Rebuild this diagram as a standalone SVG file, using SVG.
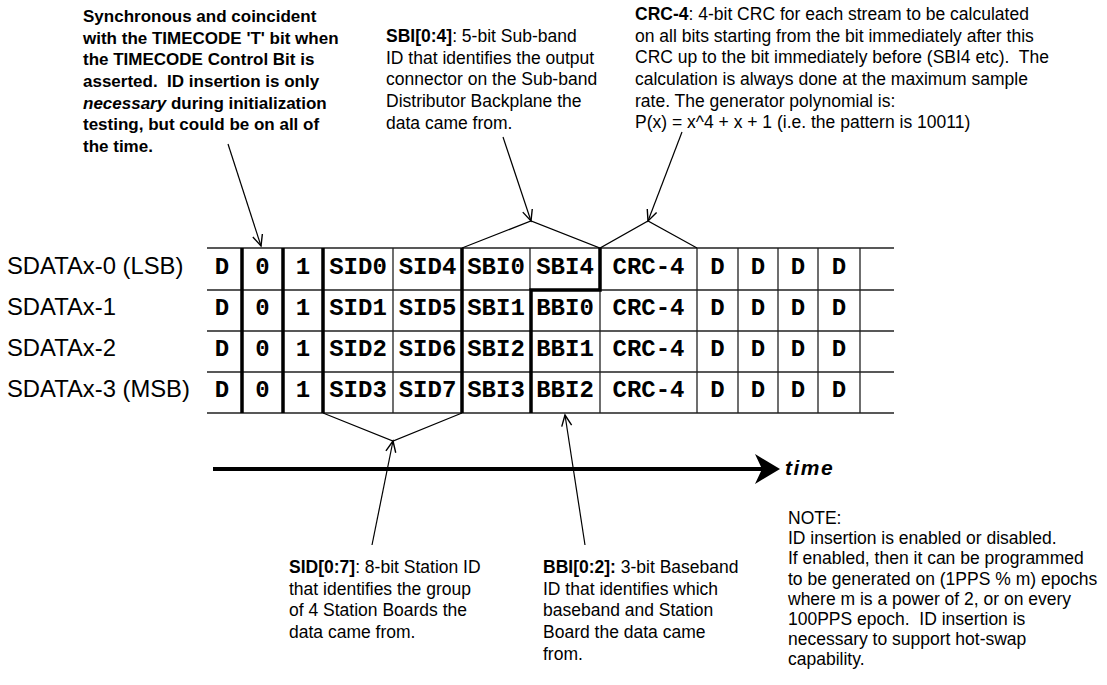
<svg xmlns="http://www.w3.org/2000/svg" width="1107" height="685" viewBox="0 0 1107 685">
<style>
.t{font-family:"Liberation Sans",Arial,sans-serif;font-size:17.5px;fill:#000;white-space:pre}
.tb{font-family:"Liberation Sans",Arial,sans-serif;font-size:17px;font-weight:bold;fill:#000;white-space:pre}
.b{font-weight:bold}
.lbl{font-family:"Liberation Sans",Arial,sans-serif;font-size:23.8px;fill:#000}
.c{font-family:"Liberation Mono","Courier New",monospace;font-size:24px;font-weight:bold;fill:#000;text-anchor:middle}
.thin{stroke:#222;stroke-width:1.3;fill:none}
.thick{stroke:#000;stroke-width:3.5;fill:none}
.conn{stroke:#000;stroke-width:1.2;fill:none}
</style>
<defs>
<marker id="ah" markerUnits="userSpaceOnUse" markerWidth="14" markerHeight="14" refX="12" refY="6" orient="auto">
<path d="M1,1 L12,6 L1,11" fill="none" stroke="#000" stroke-width="1.4"/>
</marker>
</defs>
<rect width="1107" height="685" fill="#fff"/>

<g id="note-timecode">
<text class="tb" x="83" y="22">Synchronous and coincident</text>
<text class="tb" x="83" y="43.7">with the TIMECODE 'T' bit when</text>
<text class="tb" x="83" y="65.3">the TIMECODE Control Bit is</text>
<text class="tb" x="83" y="87">asserted.  ID insertion is only</text>
<text class="tb" x="83" y="108.7"><tspan font-style="italic">necessary</tspan> during initialization</text>
<text class="tb" x="83" y="130.3">testing, but could be on all of</text>
<text class="tb" x="83" y="152">the time.</text>
</g>

<g id="note-sbi">
<text class="t" x="386" y="42"><tspan class="b">SBI[0:4]</tspan>: 5-bit Sub-band</text>
<text class="t" x="386" y="63.7">ID that identifies the output</text>
<text class="t" x="386" y="85.3">connector on the Sub-band</text>
<text class="t" x="386" y="107">Distributor Backplane the</text>
<text class="t" x="386" y="128.7">data came from.</text>
</g>

<g id="note-crc">
<text class="t" x="635" y="20"><tspan class="b">CRC-4</tspan>: 4-bit CRC for each stream to be calculated</text>
<text class="t" x="635" y="41.7">on all bits starting from the bit immediately after this</text>
<text class="t" x="635" y="63.3">CRC up to the bit immediately before (SBI4 etc).  The</text>
<text class="t" x="635" y="85">calculation is always done at the maximum sample</text>
<text class="t" x="635" y="106.7">rate. The generator polynomial is:</text>
<text class="t" x="635" y="128.3">P(x) = x^4 + x + 1 (i.e. the pattern is 10011)</text>
</g>

<g id="row-labels">
<text class="lbl" x="7" y="274">SDATAx-0 (LSB)</text>
<text class="lbl" x="7" y="315">SDATAx-1</text>
<text class="lbl" x="7" y="356">SDATAx-2</text>
<text class="lbl" x="7" y="397">SDATAx-3 (MSB)</text>
</g>

<g id="table">
<path class="thin" d="M207,248H894M207,290H894M207,331H894M207,372H894M207,413H894"/>
<path class="thin" d="M393,248V413M530,248V290M600,290V413M697,248V413M738,248V413M778,248V413M818,248V413M860,248V413"/>
<path class="thick" d="M242,248V413M283,248V413M323,248V413M462,248V413M531,413V290H600V248"/>
<g id="cells">
<text class="c" x="222" y="274">D</text><text class="c" x="262.5" y="274">0</text><text class="c" x="303" y="274">1</text>
<text class="c" x="358" y="274">SID0</text><text class="c" x="427.5" y="274">SID4</text><text class="c" x="496" y="274">SBI0</text><text class="c" x="565" y="274">SBI4</text>
<text class="c" x="648.5" y="274">CRC-4</text><text class="c" x="717.5" y="274">D</text><text class="c" x="758" y="274">D</text><text class="c" x="798" y="274">D</text><text class="c" x="839" y="274">D</text>

<text class="c" x="222" y="315">D</text><text class="c" x="262.5" y="315">0</text><text class="c" x="303" y="315">1</text>
<text class="c" x="358" y="315">SID1</text><text class="c" x="427.5" y="315">SID5</text><text class="c" x="496" y="315">SBI1</text><text class="c" x="565" y="315">BBI0</text>
<text class="c" x="648.5" y="315">CRC-4</text><text class="c" x="717.5" y="315">D</text><text class="c" x="758" y="315">D</text><text class="c" x="798" y="315">D</text><text class="c" x="839" y="315">D</text>

<text class="c" x="222" y="356">D</text><text class="c" x="262.5" y="356">0</text><text class="c" x="303" y="356">1</text>
<text class="c" x="358" y="356">SID2</text><text class="c" x="427.5" y="356">SID6</text><text class="c" x="496" y="356">SBI2</text><text class="c" x="565" y="356">BBI1</text>
<text class="c" x="648.5" y="356">CRC-4</text><text class="c" x="717.5" y="356">D</text><text class="c" x="758" y="356">D</text><text class="c" x="798" y="356">D</text><text class="c" x="839" y="356">D</text>

<text class="c" x="222" y="397">D</text><text class="c" x="262.5" y="397">0</text><text class="c" x="303" y="397">1</text>
<text class="c" x="358" y="397">SID3</text><text class="c" x="427.5" y="397">SID7</text><text class="c" x="496" y="397">SBI3</text><text class="c" x="565" y="397">BBI2</text>
<text class="c" x="648.5" y="397">CRC-4</text><text class="c" x="717.5" y="397">D</text><text class="c" x="758" y="397">D</text><text class="c" x="798" y="397">D</text><text class="c" x="839" y="397">D</text>
</g>
</g>

<g id="connectors">
<path class="conn" d="M462,248L531,221L600,248L648,221L697,248"/>
<path class="conn" d="M323,413L393,441L462,413"/>
<line class="conn" x1="228" y1="144" x2="261" y2="246" marker-end="url(#ah)"/>
<line class="conn" x1="503" y1="137" x2="531" y2="221" marker-end="url(#ah)"/>
<line class="conn" x1="682" y1="132" x2="648" y2="221" marker-end="url(#ah)"/>
<line class="conn" x1="372" y1="545" x2="393" y2="441" marker-end="url(#ah)"/>
<line class="conn" x1="585" y1="545" x2="565" y2="415" marker-end="url(#ah)"/>
</g>

<g id="time-axis">
<line x1="213" y1="469" x2="764" y2="469" stroke="#000" stroke-width="4"/>
<polygon points="755,454 780,469 755,484 762,469" fill="#000"/>
<text x="785" y="475" font-family="'Liberation Sans',Arial,sans-serif" font-size="21" font-weight="bold" font-style="italic" letter-spacing="1.5">time</text>
</g>

<g id="note-sid">
<text class="t" x="289" y="573"><tspan class="b">SID[0:7]</tspan>: 8-bit Station ID</text>
<text class="t" x="289" y="594.7">that identifies the group</text>
<text class="t" x="289" y="616.3">of 4 Station Boards the</text>
<text class="t" x="289" y="638">data came from.</text>
</g>

<g id="note-bbi">
<text class="t" x="543" y="573"><tspan class="b">BBI[0:2]:</tspan> 3-bit Baseband</text>
<text class="t" x="543" y="594.7">ID that identifies which</text>
<text class="t" x="543" y="616.3">baseband and Station</text>
<text class="t" x="543" y="638">Board the data came</text>
<text class="t" x="543" y="659.7">from.</text>
</g>

<g id="note-general">
<text class="t" x="788" y="524">NOTE:</text>
<text class="t" x="788" y="544.2">ID insertion is enabled or disabled.</text>
<text class="t" x="788" y="564.4">If enabled, then it can be programmed</text>
<text class="t" x="788" y="584.6">to be generated on (1PPS % m) epochs</text>
<text class="t" x="788" y="604.8">where m is a power of 2, or on every</text>
<text class="t" x="788" y="625">100PPS epoch.  ID insertion is</text>
<text class="t" x="788" y="645.2">necessary to support hot-swap</text>
<text class="t" x="788" y="665.4">capability.</text>
</g>
</svg>
